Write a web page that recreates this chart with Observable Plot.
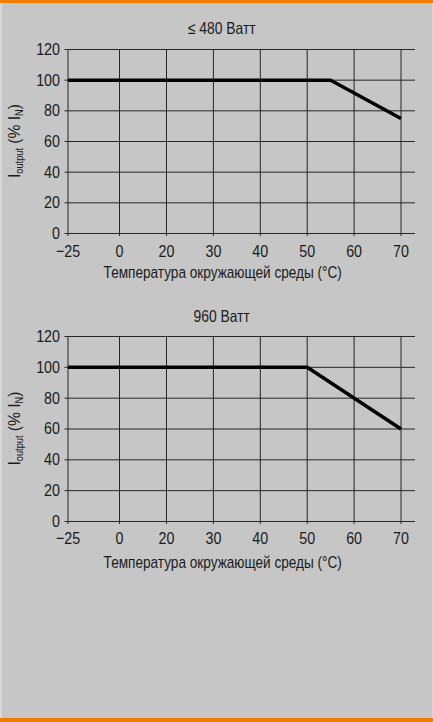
<!DOCTYPE html>
<html><head><meta charset="utf-8">
<script src="https://cdn.jsdelivr.net/npm/d3@7"></script>
<script src="https://cdn.jsdelivr.net/npm/@observablehq/plot@0.6"></script>
<style>
html,body{margin:0;padding:0;}
body{width:433px;height:722px;background:#c6c6c6;position:relative;overflow:hidden;font-family:"Liberation Sans",Arial,sans-serif;}
#top{position:absolute;left:0;top:0;width:433px;height:3px;background:#f07d00;}
#bottom{position:absolute;left:0;top:718px;width:433px;height:4px;background:#f07d00;}
#edgeL{position:absolute;left:0;top:0;width:2px;height:722px;background:#d8d8d8;}
#edgeR{position:absolute;left:432px;top:0;width:1px;height:722px;background:#d8d8d8;}
.chart{position:absolute;left:0;}
.chart svg{display:block;}
</style></head><body>
<div id="edgeL"></div><div id="edgeR"></div>
<div id="c1" class="chart" style="top:0px"></div>
<div id="c2" class="chart" style="top:287px"></div>
<div id="top"></div><div id="bottom"></div>
<script>
const xTicks = [-25, 0, 20, 30, 40, 50, 60, 70];
const yTicks = [0, 20, 40, 60, 80, 100, 120];
const titles = ["≤ 480 Ватт", "960 Ватт"];
const xLabel = "Температура окружающей среды (°C)";
const temp480 = [-25, 55, 70];
const load480 = [100, 100, 75];
const temp960 = [-25, 50, 70];
const load960 = [100, 100, 60];

const FONT = '"Liberation Sans",Arial,sans-serif';
const K = 0.84; // horizontal condensing of the text

// piecewise temperature axis: -25..0 is drawn wider than 0..20, which is drawn like 10-degree steps above 20
const xPiece = d3.scaleLinear().domain([-25, 0, 20, 70]).range([0, 51.5, 98.5, 333]);

function chart(el, title, temps, loads, m) {
  const data = temps.map((t, i) => ({t, v: loads[i]}));
  const p = Plot.plot({
    width: 433,
    height: m.height,
    marginLeft: 67.5,
    marginRight: 18,
    marginTop: m.top,
    marginBottom: m.height - m.bottom,
    style: {background: "transparent", fontFamily: FONT, fontSize: "17px", color: "#1a1a1a", overflow: "visible"},
    x: {type: "linear", domain: [0, 347.5], transform: xPiece, label: null},
    y: {domain: [0, 120], label: null},
    marks: [
      Plot.gridY(yTicks, {stroke: "#262626", strokeOpacity: 1}),
      Plot.gridX(xTicks, {stroke: "#262626", strokeOpacity: 1}),
      Plot.axisX(xTicks, {tickSize: 3, tickPadding: m.pad, label: null, fontSize: 17, stroke: "#262626"}),
      Plot.axisY(yTicks, {tickSize: 3, tickPadding: 5, label: null, fontSize: 17, stroke: "#262626"}),
      Plot.line(data, {x: "t", y: "v", stroke: "#000", strokeWidth: 3.5, strokeLinecap: "butt", strokeLinejoin: "miter"}),
      Plot.text([title], {frameAnchor: "top", lineAnchor: "middle", dx: -20, dy: m.titleDy, fontSize: 16.5, fill: "#1a1a1a"}),
      Plot.text([xLabel], {frameAnchor: "bottom", lineAnchor: "middle", dx: -19, dy: m.labelDy, fontSize: 16.2, fill: "#1a1a1a"})
    ]
  });
  const svg = d3.select(p);
  const ys = p.scale("y");
  const cy = (ys.apply(0) + ys.apply(120)) / 2;
  const t = svg.append("text")
    .attr("class", "ylab")
    .attr("transform", `translate(20,${cy}) rotate(-90)`)
    .attr("text-anchor", "middle")
    .attr("font-size", 17)
    .attr("fill", "#1a1a1a")
    .attr("font-family", FONT);
  t.append("tspan").text("I");
  t.append("tspan").attr("font-size", 10).attr("dy", 3).text("output");
  t.append("tspan").attr("dy", -3).text(" (% I");
  t.append("tspan").attr("font-size", 10).attr("dy", 3).text("N");
  t.append("tspan").attr("dy", -3).text(")");
  document.getElementById(el).appendChild(p);
  p.querySelectorAll("text").forEach(n => {
    const L = n.getComputedTextLength();
    const k = n.classList.contains("ylab") ? 0.92 : K;
    if (L > 0) {
      n.setAttribute("textLength", (L * k).toFixed(2));
      n.setAttribute("lengthAdjust", "spacingAndGlyphs");
    }
  });
}

chart("c1", titles[0], temp480, load480, {height: 287, top: 49, bottom: 233, pad: 8, titleDy: -20.5, labelDy: 39});
chart("c2", titles[1], temp960, load960, {height: 287, top: 49, bottom: 234, pad: 7, titleDy: -19.5, labelDy: 41});
</script>
</body></html>
